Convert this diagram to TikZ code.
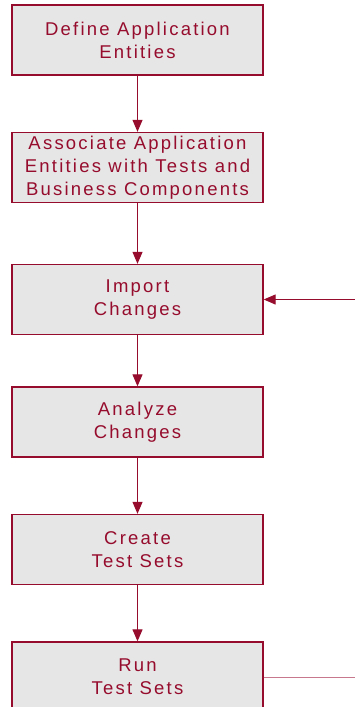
\documentclass[tikz,border=0pt]{standalone}
\usepackage{fontspec}
\setmainfont{Liberation Sans}[LetterSpace=12]
\usetikzlibrary{positioning,arrows.meta,calc}

\definecolor{boxred}{RGB}{150,12,45}
\definecolor{boxgray}{RGB}{230,230,230}
\definecolor{linkred}{RGB}{200,120,140}

\tikzset{
  stepbox/.style={draw=boxred, fill=boxgray, line width=1.3pt,
    minimum width=251pt, minimum height=70pt, align=center,
    text=boxred, font=\fontsize{18.5pt}{23pt}\selectfont},
  flow/.style={draw=boxred, line width=1pt,
    -{Triangle[length=12pt,width=10pt]}}
}

\begin{document}
\begin{tikzpicture}[x=1pt, y=-1pt, on grid=true, node distance=127.5pt]
    \useasboundingbox (0,0) rectangle (355,707);
    \clip (0,0) rectangle (355,707);

    \node[stepbox] (define) at (137.5,40) {Define Application\\Entities};
    \node[stepbox, below=of define] (assoc) {Associate Application\\Entities with Tests and\\Business Components};
    \node[stepbox, below=132pt of assoc] (import) {Import\\Changes};
    \node[stepbox, below=122.5pt of import] (analyze) {Analyze\\Changes};
    \node[stepbox, below=of analyze] (create) {Create\\Test Sets};
    \node[stepbox, below=of create] (run) {Run\\Test Sets};

    \coordinate (back) at (355,299.5);
    \coordinate (out) at (355,677);

    \draw[flow] (define) -- (assoc);
    \draw[flow] (assoc) -- (import);
    \draw[flow] (import) -- (analyze);
    \draw[flow] (analyze) -- (create);
    \draw[flow] (create) -- (run);

    \draw[flow] (back) -- (import);
    \draw[draw=linkred, line width=1pt] (run) -- (out);
  \end{tikzpicture}
\end{document}
